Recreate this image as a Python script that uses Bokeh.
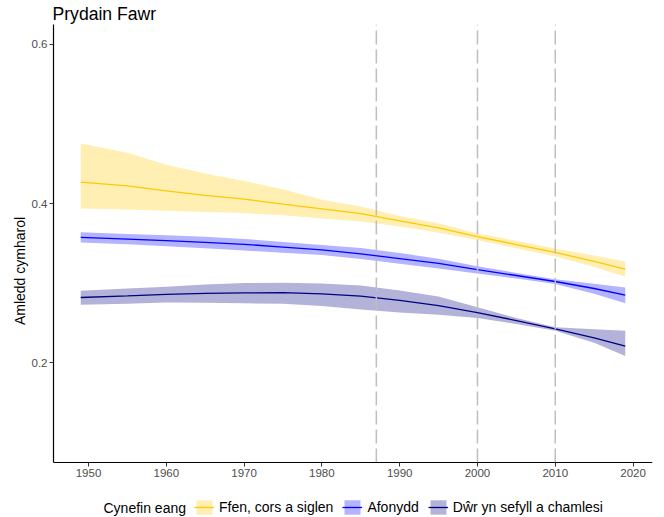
from bokeh.plotting import figure
from bokeh.models import Range1d, FixedTicker, Legend, LegendItem, Label
from bokeh.embed import file_html
from bokeh.resources import INLINE

# ---- data ----
years = [1949, 1955, 1960, 1965, 1970, 1975, 1980, 1985, 1990, 1995, 2000, 2005, 2010, 2015, 2019]

ffen_mid = [0.4270, 0.4223, 0.4162, 0.4105, 0.4056, 0.3995, 0.3935, 0.3875, 0.3783, 0.3695, 0.3585, 0.3487, 0.3388, 0.3275, 0.3178]
ffen_hi  = [0.4755, 0.4638, 0.4490, 0.4380, 0.4285, 0.4180, 0.4050, 0.3965, 0.3845, 0.3755, 0.3627, 0.3535, 0.3438, 0.3350, 0.3274]
ffen_lo  = [0.3940, 0.3927, 0.3912, 0.3897, 0.3882, 0.3855, 0.3815, 0.3777, 0.3715, 0.3635, 0.3543, 0.3440, 0.3337, 0.3205, 0.3082]

afon_mid = [0.3576, 0.3555, 0.3535, 0.3515, 0.3490, 0.3455, 0.3420, 0.3370, 0.3310, 0.3250, 0.3172, 0.3098, 0.3023, 0.2935, 0.2851]
afon_hi  = [0.3640, 0.3620, 0.3605, 0.3585, 0.3558, 0.3520, 0.3480, 0.3445, 0.3380, 0.3310, 0.3215, 0.3130, 0.3052, 0.2995, 0.2947]
afon_lo  = [0.3513, 0.3490, 0.3465, 0.3440, 0.3412, 0.3385, 0.3355, 0.3305, 0.3245, 0.3185, 0.3123, 0.3060, 0.2990, 0.2870, 0.2751]

dwr_mid = [0.2822, 0.2842, 0.2862, 0.2874, 0.2880, 0.2882, 0.2868, 0.2838, 0.2785, 0.2720, 0.2633, 0.2532, 0.2428, 0.2315, 0.2210]
dwr_hi  = [0.2906, 0.2935, 0.2958, 0.2985, 0.3003, 0.3008, 0.2998, 0.2972, 0.2910, 0.2835, 0.2700, 0.2565, 0.2448, 0.2422, 0.2403]
dwr_lo  = [0.2732, 0.2745, 0.2758, 0.2757, 0.2750, 0.2742, 0.2715, 0.2672, 0.2635, 0.2605, 0.2565, 0.2490, 0.2403, 0.2255, 0.2088]

series_names = ["Ffen, cors a siglen", "Afonydd", "Dŵr yn sefyll a chamlesi"]
line_colors = ["#FFC800", "#0000FF", "#000080"]
band_colors = ["#FFEFB3", "#B3B3FF", "#B3B3D9"]

x_ticks = [1950, 1960, 1970, 1980, 1990, 2000, 2010, 2020]
y_ticks = [0.2, 0.4, 0.6]
event_years = [1987, 2000, 2010]

title_text = "Prydain Fawr"
y_label = "Amledd cymharol"
legend_title = "Cynefin eang"

FONT = "Liberation Sans"

# panel limits (ggplot-style 5% expansion of 0.1-0.6 and 1949-2019)
X_LO, X_HI = 1945.5, 2022.5
Y_LO, Y_HI = 0.075, 0.625
PANEL_PX = 438          # panel height in pixels
EXTRA_PX = 55           # room under the panel for tick labels and legend
y_start = Y_LO - EXTRA_PX * (Y_HI - Y_LO) / PANEL_PX

p = figure(width=664, height=517, output_backend="svg", toolbar_location=None,
           x_range=Range1d(X_LO, X_HI), y_range=Range1d(y_start, Y_HI),
           min_border_left=53, min_border_right=12, min_border_top=24, min_border_bottom=0)
p.xgrid.visible = False
p.ygrid.visible = False
p.outline_line_color = None
p.background_fill_color = "white"
p.border_fill_color = "white"

p.title.text = title_text
p.title.align = "left"
p.title.text_font = FONT
p.title.text_font_size = "17.6px"
p.title.text_font_style = "normal"
p.title.text_color = "black"
p.title.standoff = 2
p.title.offset = -1

items = []
data = [(ffen_lo, ffen_mid, ffen_hi), (afon_lo, afon_mid, afon_hi), (dwr_lo, dwr_mid, dwr_hi)]
for (lo, mid, hi), name, lc, bc in zip(data, series_names, line_colors, band_colors):
    a = p.varea(x=years, y1=lo, y2=hi, fill_color=bc)
    l = p.line(x=years, y=mid, line_color=lc, line_width=1.3)
    items.append(LegendItem(label=name, renderers=[a, l]))

p.segment(x0=event_years, x1=event_years, y0=[Y_LO] * len(event_years), y1=[Y_HI] * len(event_years),
          line_color="#BEBEBE", line_width=1.5, line_dash="14 5")

for ax in (p.xaxis[0], p.yaxis[0]):
    ax.axis_line_color = "black"
    ax.axis_line_width = 1.2
    ax.major_tick_line_color = "#333333"
    ax.major_tick_out = 4
    ax.major_tick_in = 0
    ax.minor_tick_line_color = None
    ax.major_label_text_font = FONT
    ax.major_label_text_font_size = "11.5px"
    ax.major_label_text_color = "#4D4D4D"
    ax.major_label_standoff = 2

p.xaxis.fixed_location = Y_LO
p.yaxis.bounds = (Y_LO, Y_HI)
p.xaxis.ticker = FixedTicker(ticks=x_ticks)
p.yaxis.ticker = FixedTicker(ticks=y_ticks)
p.yaxis.axis_label = y_label
p.yaxis.axis_label_text_font = FONT
p.yaxis.axis_label_text_font_size = "14px"
p.yaxis.axis_label_text_font_style = "normal"
p.yaxis.axis_label_text_color = "black"
p.yaxis.axis_label_standoff = 1

legend = Legend(items=items, orientation="horizontal", location=(141, 1),
                padding=0, margin=0, spacing=9, label_standoff=5,
                glyph_width=20, glyph_height=18, label_height=18,
                border_line_color=None, background_fill_alpha=0,
                label_text_font=FONT, label_text_font_size="14px",
                label_text_color="black")
p.add_layout(legend)

p.add_layout(Label(x=50, y=10, x_units="screen", y_units="screen", text=legend_title,
                   text_baseline="middle", text_font=FONT, text_font_size="14px",
                   text_color="black"))

open("out.html", "w").write(file_html(p, INLINE))
